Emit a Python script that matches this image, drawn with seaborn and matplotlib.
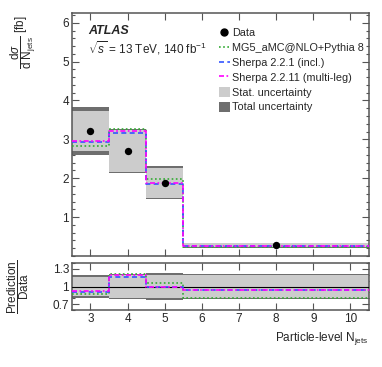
import numpy as np
import pandas as pd
import matplotlib
matplotlib.use("Agg")
import matplotlib.pyplot as plt
from matplotlib.patches import Patch
from matplotlib.lines import Line2D
from matplotlib.ticker import MultipleLocator
import seaborn as sns

# bins and measured cross-section
bin_edges = [2.5, 3.5, 4.5, 5.5, 10.5]
data_x = [3, 4, 5, 8]
data_y = [3.22, 2.70, 1.88, 0.275]
stat_rel = [0.16, 0.20, 0.20, 0.19]
total_rel = [0.19, 0.21, 0.225, 0.21]

# predictions
mg5 = [2.83, 3.27, 1.98, 0.223]
sherpa221 = [2.92, 3.16, 1.86, 0.257]
sherpa2211 = [2.96, 3.21, 1.88, 0.259]

models = [
    ("MG5_aMC@NLO+Pythia 8", mg5, "#33aa33", (0, (1, 1.5))),
    ("Sherpa 2.2.1 (incl.)", sherpa221, "#3355ff", (0, (3, 2))),
    ("Sherpa 2.2.11 (multi-leg)", sherpa2211, "#ff00ff", (0, (3, 1.5, 1, 1.5))),
]

sns.set_style("ticks")
plt.rcParams["font.family"] = ["Liberation Sans", "DejaVu Sans"]
plt.rcParams["mathtext.fontset"] = "custom"
plt.rcParams["mathtext.rm"] = "Liberation Sans"
plt.rcParams["mathtext.it"] = "Liberation Sans:italic"
plt.rcParams["mathtext.bf"] = "Liberation Sans:bold"

fig = plt.figure(figsize=(3.82, 3.67), dpi=100)
ax = fig.add_axes([0.188, 0.3025, 0.778, 0.662])
axr = fig.add_axes([0.188, 0.1553, 0.778, 0.128])

edges = np.array(bin_edges)
widths = np.diff(edges)
y = np.array(data_y)
light = "#cccccc"
dark = "#6e6e6e"

# uncertainty boxes
tot = y * np.array(total_rel)
sta = y * np.array(stat_rel)
ax.bar(edges[:-1], 2 * tot, width=widths, bottom=y - tot, align="edge", color=dark, lw=0, zorder=1)
ax.bar(edges[:-1], 2 * sta, width=widths, bottom=y - sta, align="edge", color=light, lw=0, zorder=2)
axr.bar(edges[:-1], 2 * np.array(total_rel), width=widths, bottom=1 - np.array(total_rel),
        align="edge", color=dark, lw=0, zorder=1)
axr.bar(edges[:-1], 2 * np.array(stat_rel), width=widths, bottom=1 - np.array(stat_rel),
        align="edge", color=light, lw=0, zorder=2)
axr.axhline(1, color="black", lw=0.8, zorder=3)

for name, vals, col, ls in models:
    v = np.array(vals)
    step_df = pd.DataFrame({"x": edges, "y": np.append(v, v[-1])})
    sns.lineplot(data=step_df, x="x", y="y", ax=ax, drawstyle="steps-post",
                 color=col, lw=1.2, linestyle=ls, zorder=4)
    r = v / y
    ratio_df = pd.DataFrame({"x": edges, "y": np.append(r, r[-1])})
    sns.lineplot(data=ratio_df, x="x", y="y", ax=axr, drawstyle="steps-post",
                 color=col, lw=1.2, linestyle=ls, zorder=4)

sns.scatterplot(x=data_x, y=data_y, ax=ax, color="black", s=28, edgecolor="black",
                linewidth=0, zorder=5)

frame = "#555555"
for a in (ax, axr):
    a.set_xlim(2.5, 10.5)
    a.xaxis.set_major_locator(MultipleLocator(1))
    a.tick_params(direction="in", top=True, right=True, length=5, width=0.8,
                  color=frame, labelsize=8.5, pad=2)
    a.tick_params(which="minor", direction="in", top=True, right=True, length=2.5,
                  width=0.8, color=frame)
    for s in a.spines.values():
        s.set_color(frame)
        s.set_linewidth(1.1)
    a.set_xlabel("")
    a.set_ylabel("")

ax.set_ylim(0, 6.25)
ax.yaxis.set_major_locator(MultipleLocator(1))
ax.yaxis.set_minor_locator(MultipleLocator(0.2))
ax.set_yticks([1, 2, 3, 4, 5, 6])
ax.tick_params(labelbottom=False)

axr.set_ylim(0.6, 1.4)
axr.set_yticks([0.7, 1.0, 1.3])
axr.set_yticklabels(["0.7", "1", "1.3"])
axr.yaxis.set_minor_locator(MultipleLocator(0.1))

ax.text(0.054, 0.928, "ATLAS", transform=ax.transAxes, fontsize=9,
        fontweight="bold", style="italic", va="center")
ax.text(0.054, 0.857, r"$\sqrt{s}$ = 13 TeV, 140 fb$^{-1}$", transform=ax.transAxes,
        fontsize=8.5, va="center")

ax.set_ylabel(r"$\dfrac{\mathrm{d}\sigma}{\mathrm{d\ N}_{\mathrm{jets}}}$ [fb]",
              loc="top", fontsize=8.5)
axr.set_ylabel(r"$\dfrac{\mathrm{Prediction}}{\mathrm{Data}}$", fontsize=8.5)
ax.yaxis.set_label_coords(-0.115, 0.99)
axr.yaxis.set_label_coords(-0.138, 0.5)
axr.set_xlabel(r"Particle-level N$_{\mathrm{jets}}$", loc="right", fontsize=8.5,
               labelpad=4)

handles = [
    Line2D([], [], marker="o", color="black", ls="none", markersize=5),
] + [Line2D([], [], color=c, ls=l, lw=1.2) for _, _, c, l in models] + [
    Patch(facecolor=light, edgecolor="none"),
    Patch(facecolor=dark, edgecolor="none"),
]
labels = ["Data"] + [m[0] for m in models] + ["Stat. uncertainty", "Total uncertainty"]
ax.legend(handles, labels, loc="upper left", bbox_to_anchor=(0.495, 0.94),
          frameon=False, fontsize=7.8, handlelength=1.0, handleheight=1.1,
          handletextpad=0.2, labelspacing=0.36, borderpad=0, borderaxespad=0)

fig.savefig("out.png", dpi=100)
